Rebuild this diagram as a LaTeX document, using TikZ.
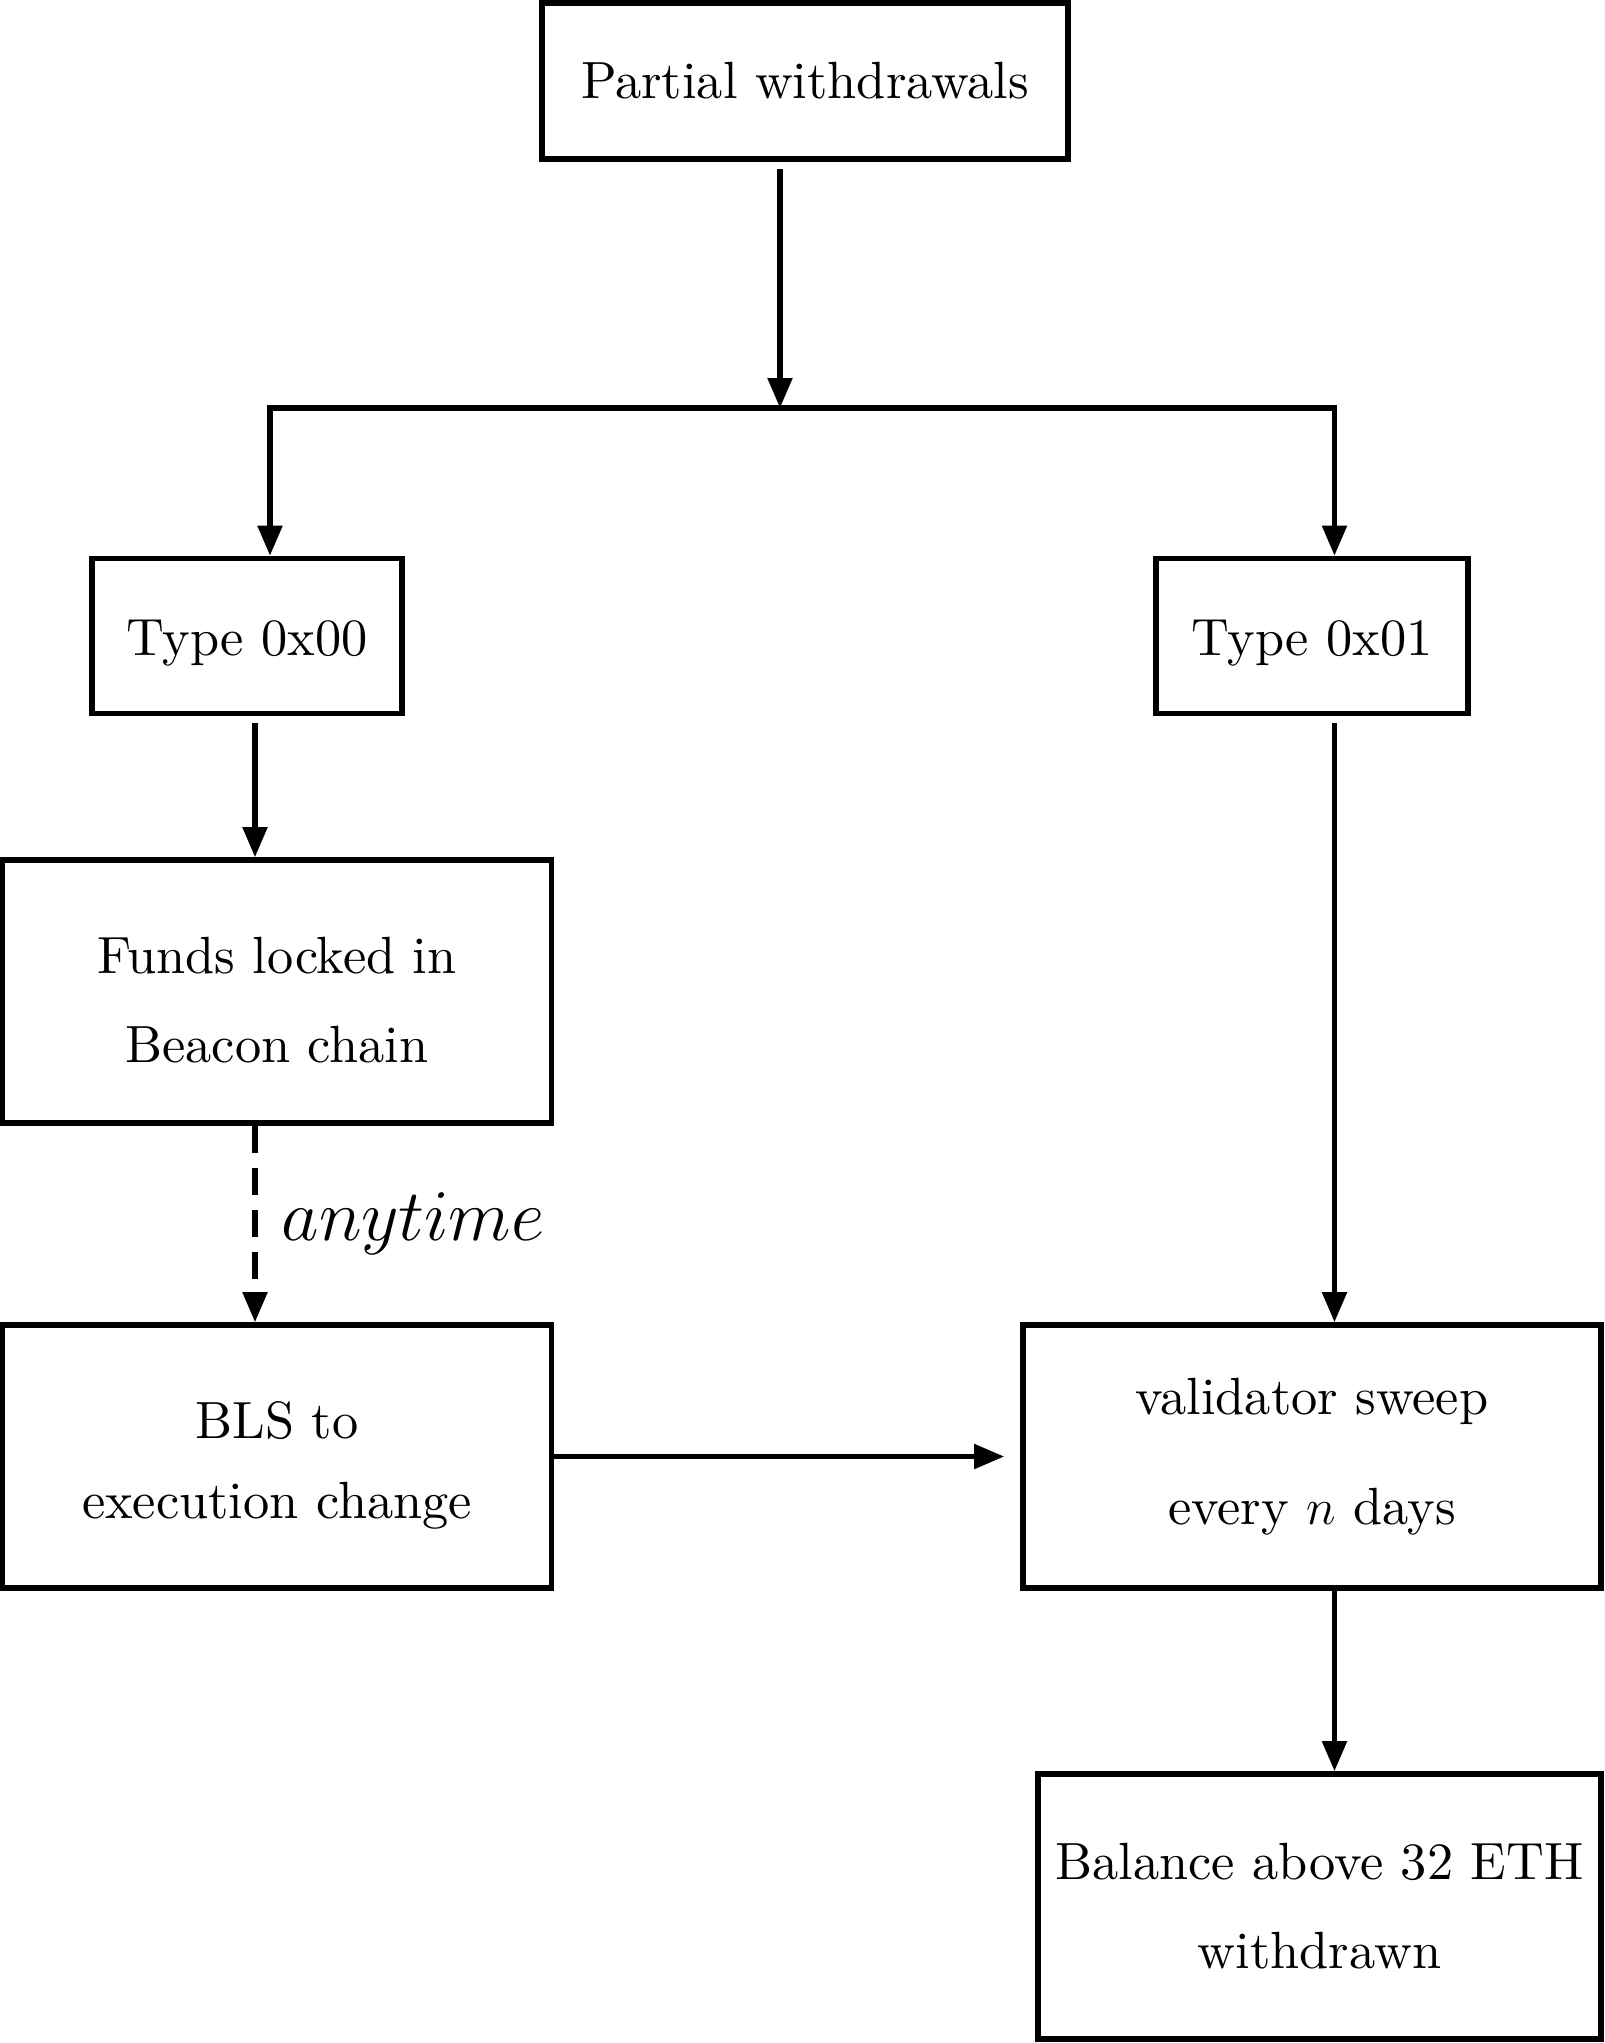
\documentclass[tikz,border=0pt]{standalone}
\usepackage{fontspec}
\setmainfont{lmroman10-regular.otf}
\usepackage{tikz}
\usetikzlibrary{arrows.meta, positioning, calc}
\newcommand{\tallline}{\rule{0pt}{15.4pt}}
\tikzset{
  stage/.style={rectangle, draw=black, line width=1.6pt, fill=white,
    align=center, inner sep=0pt, font=\fontsize{14.9}{25.3}\selectfont},
  arrow/.style={-{Triangle[length=0.3cm, width=0.24cm]}, line width=1.45pt},
  dasharrow/.style={arrow, dash pattern=on 0.27cm off 0.15cm}
}

\begin{document}
\begin{tikzpicture}
\useasboundingbox (0,0) rectangle (16.05,-20.43);

\node (pw)    [stage, minimum width=5.26cm, minimum height=1.56cm] at (8.05,-0.81)   {Partial withdrawals};
\node (t00)   [stage, minimum width=3.10cm, minimum height=1.55cm, text height=14.2pt] at (2.47,-6.36)  {Type 0x00};
\node (t01)   [stage, minimum width=3.12cm, minimum height=1.55cm, text height=14.2pt] at (13.12,-6.36) {Type 0x01};
\node (funds) [stage, minimum width=5.49cm, minimum height=2.63cm] at (2.77,-9.915)  {\tallline Funds locked in\\ Beacon chain};
\node (bls)   [stage, minimum width=5.49cm, minimum height=2.63cm] at (2.77,-14.565) {\tallline BLS to\\[-2.6pt] execution change};
\node (sweep) [stage, minimum width=5.78cm, minimum height=2.63cm] at (13.12,-14.565) {validator sweep\\[6pt] every $n$ days};
\node (bal)   [stage, minimum width=5.63cm, minimum height=2.65cm] at (13.195,-19.065) {Balance above 32 ETH\\ withdrawn};

% branch points
\coordinate (split) at (7.80,-4.08);
\coordinate (ldrop) at (2.70,-4.08);
\coordinate (lcol)  at (2.55,0);
\coordinate (rcol)  at (13.345,0);

\draw [arrow, shorten <=0.07cm] (pw.south -| split) -- (split);
\draw [arrow] (split) -| (t00.north -| ldrop);
\draw [arrow] (split) -| (t01.north -| rcol);
\draw [arrow, shorten <=0.07cm] (t00.south -| lcol) -- (funds.north -| lcol);
\draw [dasharrow] (funds.south -| lcol) -- node[right=0.24cm, inner sep=0pt, font=\fontsize{19.6}{24}\selectfont] {$anytime$} (bls.north -| lcol);
\draw [arrow, shorten <=0.07cm] (t01.south -| rcol) -- (sweep.north -| rcol);
\draw [arrow, shorten >=0.16cm] (bls.east) -- (sweep.west);
\draw [arrow] (sweep.south -| rcol) -- (bal.north -| rcol);
\end{tikzpicture}
\end{document}
